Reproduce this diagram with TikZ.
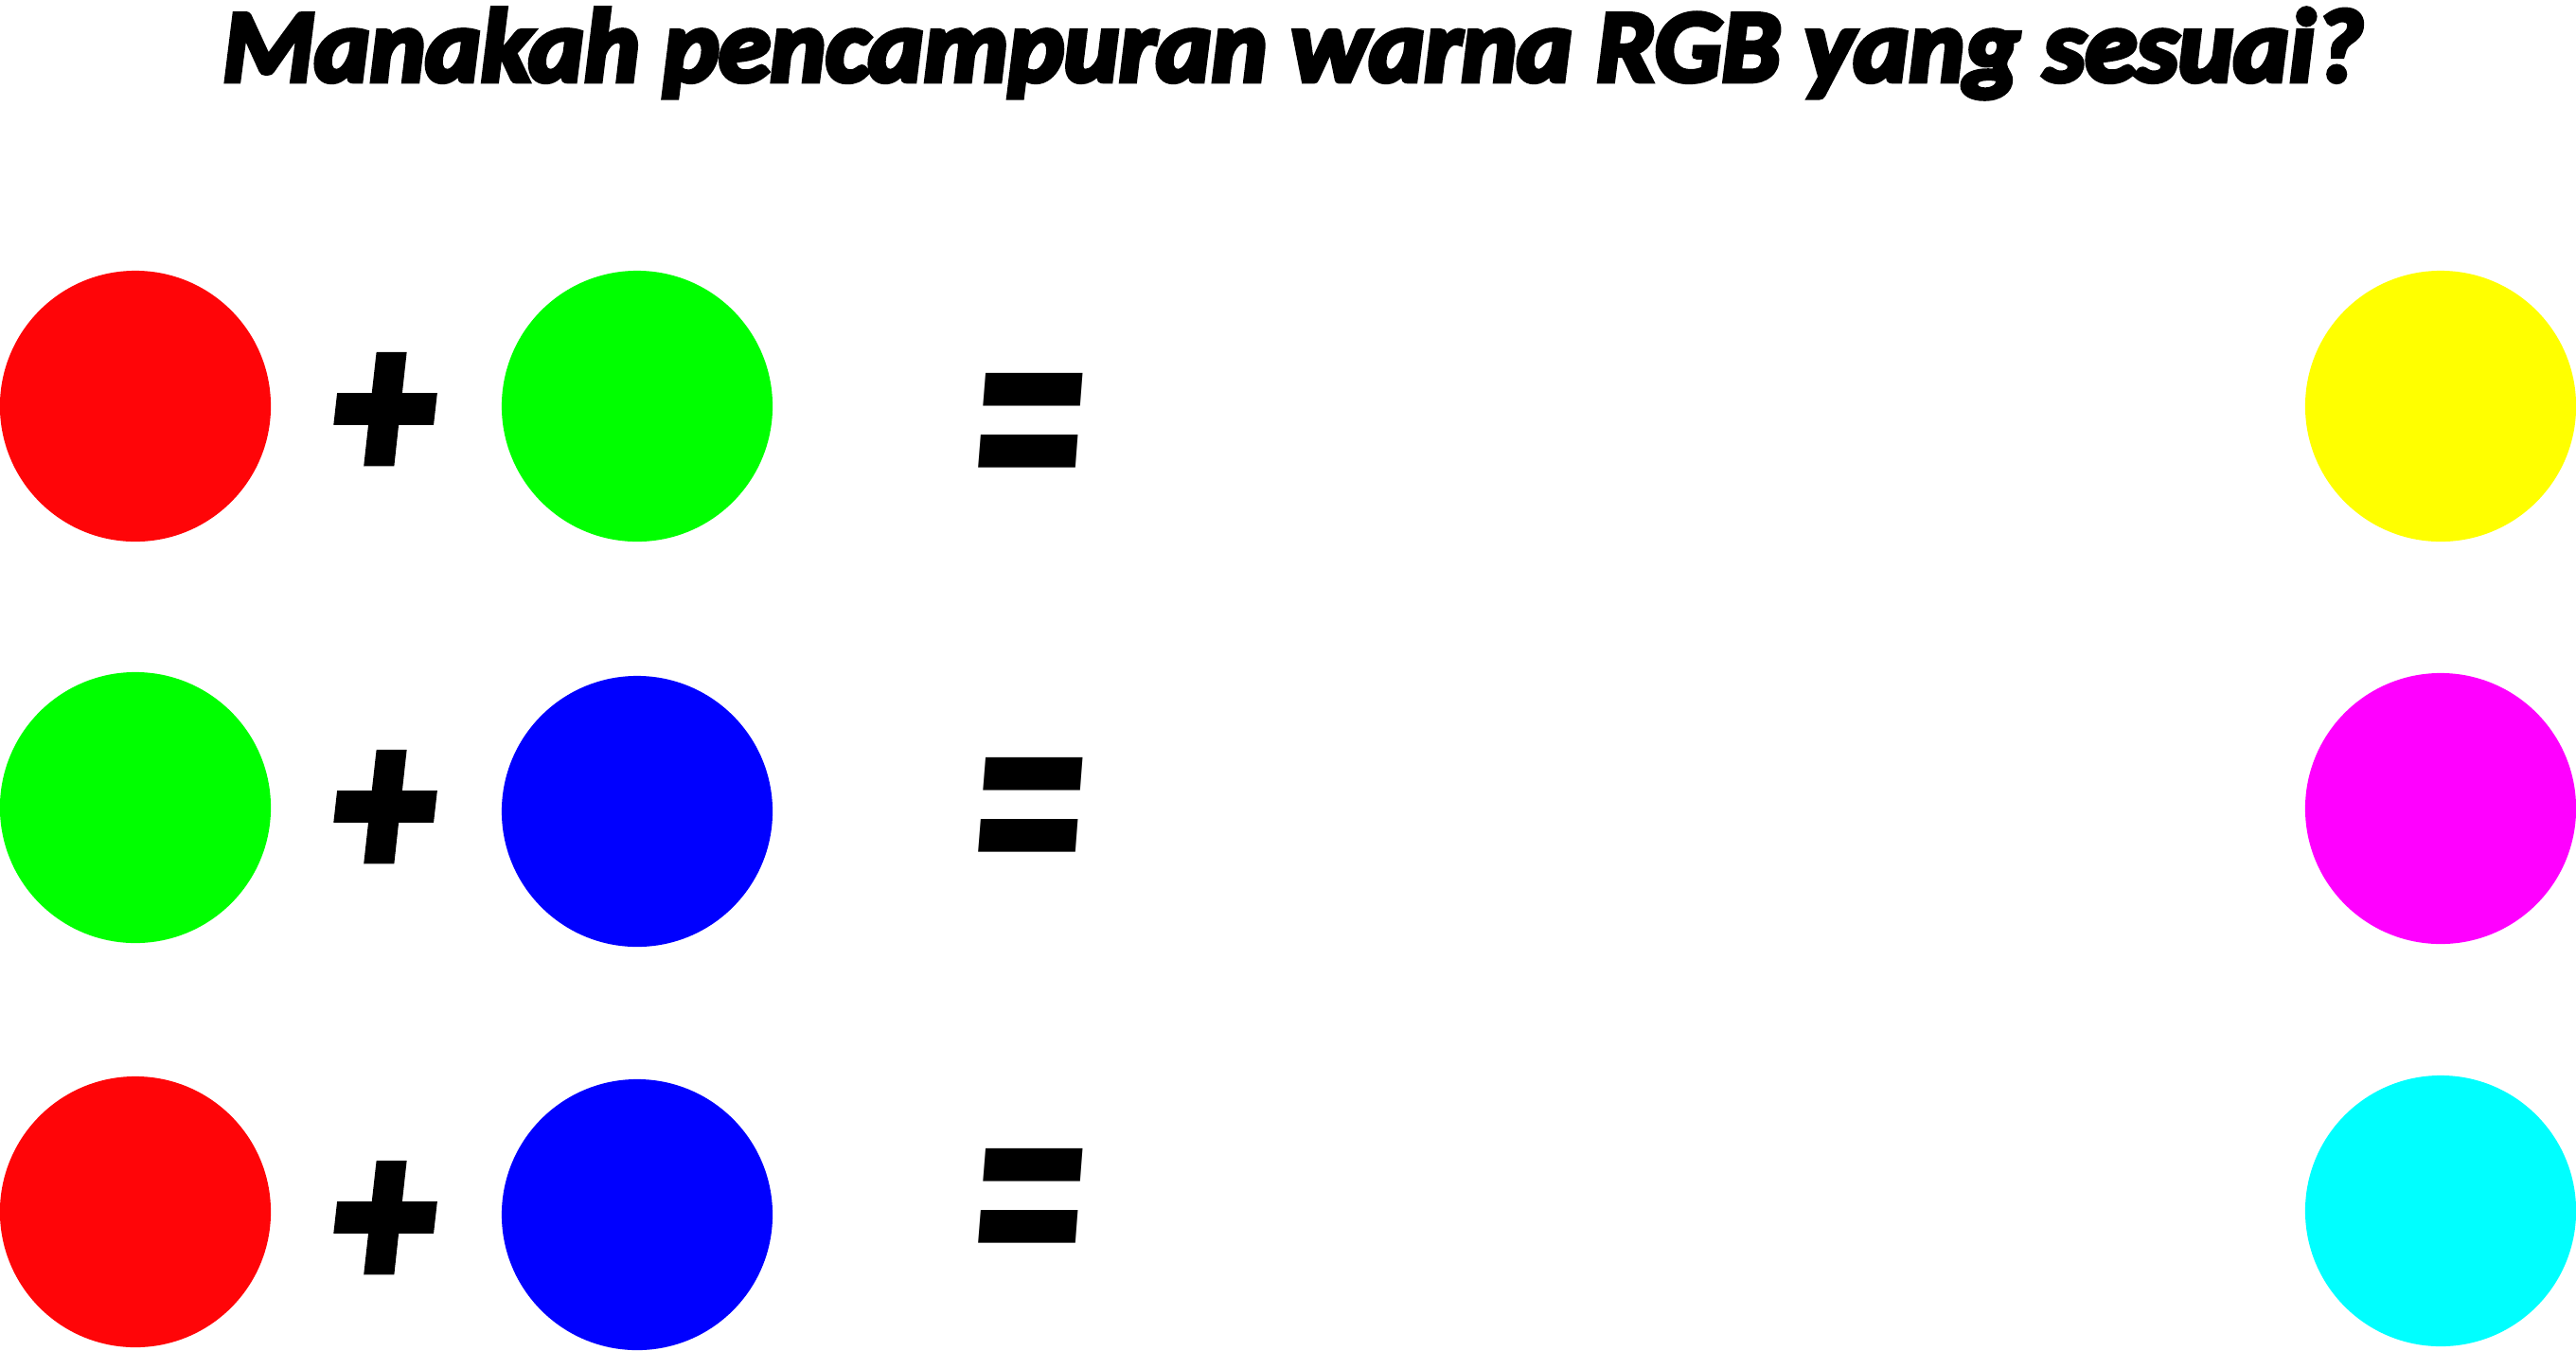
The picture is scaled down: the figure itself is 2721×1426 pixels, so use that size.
\documentclass[tikz,border=0pt]{standalone}
\usepackage{fontspec}
\newfontfamily\heavy{Carlito}[FakeBold=5]
\newfontfamily\plusfont{Carlito}[FakeBold=6]
\newfontfamily\eqfont{Carlito}
\definecolor{cred}{RGB}{255,5,8}
\definecolor{cgreen}{RGB}{0,255,0}
\definecolor{cblue}{RGB}{0,0,255}
\definecolor{cyellow}{RGB}{255,255,0}
\definecolor{cmagenta}{RGB}{255,0,255}
\definecolor{ccyan}{RGB}{0,255,255}
\begin{document}
\begin{tikzpicture}[x=0.01cm,y=-0.01cm,
  dot/.style={circle,inner sep=0pt,minimum size=2.86cm,fill=#1},
  ttl/.style={inner sep=0pt,font=\heavy\bfseries\itshape},
  plussym/.style={inner sep=0pt,font=\plusfont\bfseries\itshape},
  eqsym/.style={inner sep=0pt,font=\eqfont\bfseries\itshape}]
\useasboundingbox (0,0) rectangle (2721,1426);
\node[ttl] (title) at (1366,56.5) {\resizebox*{22.6cm}{0.95cm}{Manakah pencampuran warna RGB yang sesuai?}};
% row 1
\node[dot=cred] (r1a) at (143,429) {};
\node[plussym] (p1) at (405,441) {\resizebox*{1.01cm}{1.245cm}{+}};
\node[dot=cgreen] (r1b) at (673,429) {};
\node[eqsym] (e1) at (1087,481) {\resizebox*{1.22cm}{1.74cm}{=}};
\node[dot=cyellow] (r1c) at (2578,429) {};
% row 2
\node[dot=cgreen] (r2a) at (143,853) {};
\node[plussym] (p2) at (405,861) {\resizebox*{1.01cm}{1.245cm}{+}};
\node[dot=cblue] (r2b) at (673,857) {};
\node[eqsym] (e2) at (1087,887) {\resizebox*{1.22cm}{1.74cm}{=}};
\node[dot=cmagenta] (r2c) at (2578,854) {};
% row 3
\node[dot=cred] (r3a) at (143,1280) {};
\node[plussym] (p3) at (405,1295) {\resizebox*{1.01cm}{1.245cm}{+}};
\node[dot=cblue] (r3b) at (673,1283) {};
\node[eqsym] (e3) at (1087,1300) {\resizebox*{1.22cm}{1.74cm}{=}};
\node[dot=ccyan] (r3c) at (2578,1279) {};
\end{tikzpicture}
\end{document}
